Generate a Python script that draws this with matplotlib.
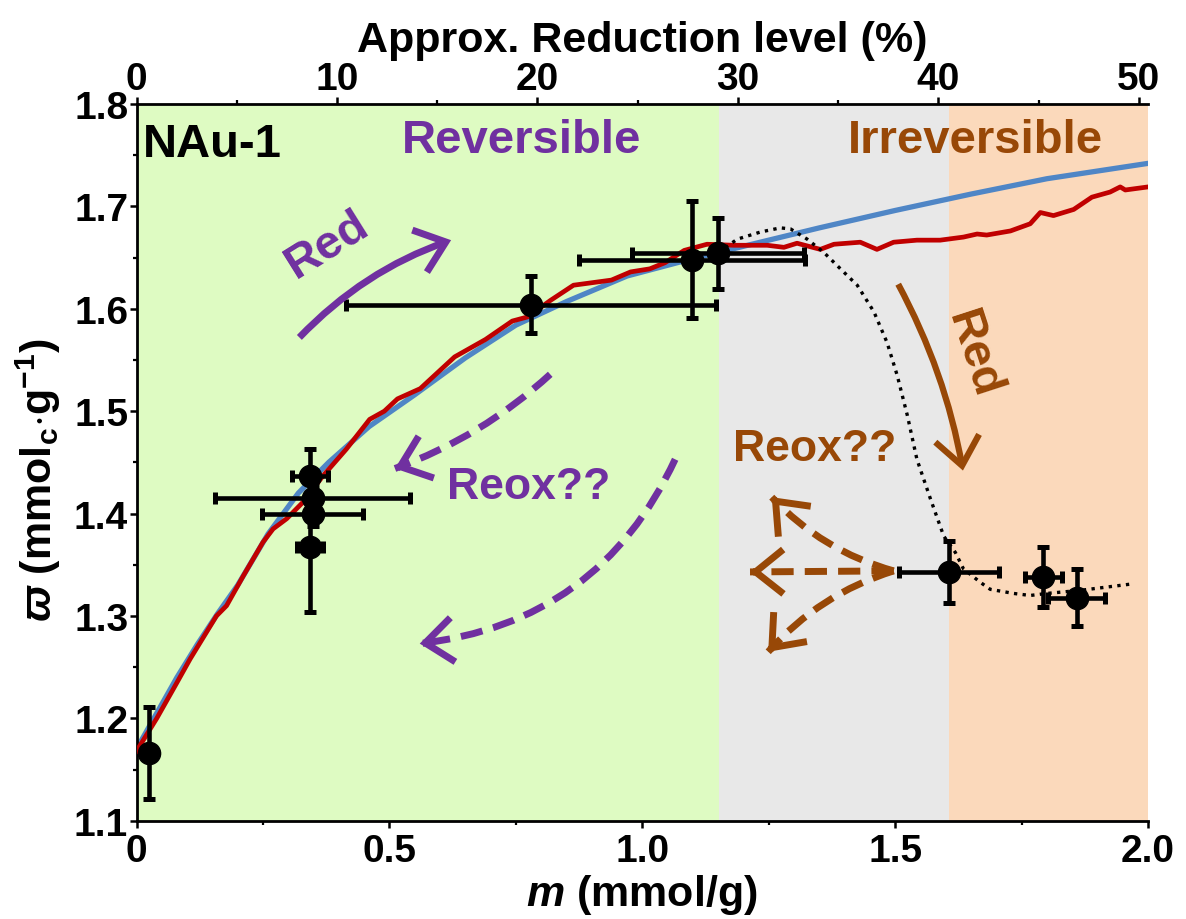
import numpy as np
import matplotlib
matplotlib.use("Agg")
import matplotlib.pyplot as plt
from matplotlib.ticker import MultipleLocator, FixedLocator, FixedFormatter

plt.rcParams['font.family'] = ['Liberation Sans', 'DejaVu Sans']
plt.rcParams['font.weight'] = 'bold'
plt.rcParams['mathtext.fontset'] = 'custom'
plt.rcParams['mathtext.rm'] = 'Liberation Sans:bold'
plt.rcParams['mathtext.it'] = 'Liberation Sans:italic:bold'
plt.rcParams['mathtext.bf'] = 'Liberation Sans:bold'

# ---------------- data ----------------
# measured points
pt_m = [0.024, 0.343, 0.348, 0.348, 0.343, 0.780, 1.098, 1.150, 1.607, 1.793, 1.859]
pt_w = [1.166, 1.437, 1.415, 1.400, 1.367, 1.604, 1.648, 1.654, 1.343, 1.338, 1.318]
pt_xerr = [0.0, 0.035, 0.193, 0.099, 0.026, 0.366, 0.224, 0.170, 0.099, 0.036, 0.056]
pt_yerr = [0.045, 0.026, 0.012, 0.012, 0.063, 0.028, 0.057, 0.035, 0.030, 0.029, 0.028]

# fitted model curve (blue)
fit_m = [0.00, 0.04, 0.08, 0.12, 0.16, 0.20, 0.26, 0.32, 0.38, 0.46, 0.55, 0.65,
         0.75, 0.85, 0.97, 1.10, 1.20, 1.35, 1.50, 1.65, 1.80, 2.00]
fit_w = [1.170, 1.205, 1.240, 1.272, 1.302, 1.330, 1.380, 1.420, 1.450, 1.485, 1.516, 1.552,
         1.584, 1.607, 1.632, 1.649, 1.661, 1.679, 1.696, 1.712, 1.727, 1.742]

# measured titration curve (red)
red_m = [0.000, 0.040, 0.080, 0.106, 0.158, 0.178, 0.211, 0.250, 0.270, 0.297, 0.329, 0.369,
         0.415, 0.461, 0.490, 0.516, 0.561, 0.629, 0.690, 0.743, 0.773, 0.818, 0.864, 0.909,
         0.939, 0.977, 1.015, 1.045, 1.083, 1.128, 1.181, 1.247, 1.280, 1.306, 1.352, 1.379,
         1.431, 1.464, 1.497, 1.543, 1.589, 1.635, 1.662, 1.681, 1.728, 1.767, 1.787, 1.813,
         1.853, 1.889, 1.925, 1.945, 1.955, 2.000]
red_w = [1.168, 1.200, 1.235, 1.258, 1.300, 1.310, 1.339, 1.372, 1.385, 1.395, 1.411, 1.437,
         1.463, 1.492, 1.500, 1.512, 1.522, 1.553, 1.570, 1.588, 1.592, 1.608, 1.623, 1.626,
         1.628, 1.636, 1.639, 1.645, 1.657, 1.663, 1.662, 1.662, 1.660, 1.664, 1.658, 1.663,
         1.665, 1.658, 1.665, 1.667, 1.667, 1.670, 1.673, 1.672, 1.676, 1.683, 1.694, 1.691,
         1.697, 1.709, 1.714, 1.719, 1.716, 1.719]

# dotted guide curve
dot_m = [1.150, 1.188, 1.234, 1.273, 1.293, 1.326, 1.359, 1.398, 1.425, 1.458, 1.484, 1.504,
         1.524, 1.543, 1.570, 1.596, 1.619, 1.635, 1.668, 1.688, 1.734, 1.767, 1.800, 1.866, 1.964]
dot_w = [1.655, 1.668, 1.675, 1.679, 1.678, 1.668, 1.655, 1.636, 1.623, 1.597, 1.567, 1.535,
         1.496, 1.453, 1.414, 1.378, 1.362, 1.346, 1.333, 1.326, 1.322, 1.320, 1.322, 1.325, 1.331]

# background regions
region_edges = [0.0, 1.152, 1.607, 2.0]
region_colors = ['#DEFBC2', '#E8E8E8', '#FBD9BB']

x_ticks = [0, 0.5, 1.0, 1.5, 2.0]
x_tick_labels = ['0', '0.5', '1.0', '1.5', '2.0']
y_ticks = [1.1, 1.2, 1.3, 1.4, 1.5, 1.6, 1.7, 1.8]
y_tick_labels = ['1.1', '1.2', '1.3', '1.4', '1.5', '1.6', '1.7', '1.8']
top_ticks = [0, 10, 20, 30, 40, 50]
top_tick_labels = ['0', '10', '20', '30', '40', '50']
pct_per_mmol = 25.23

PURPLE = '#7030A0'
BROWN = '#984807'
BLUE = '#4F86C6'
RED = '#C00000'

# ---------------- figure ----------------
fig = plt.figure(figsize=(11.86, 9.2), dpi=100)
ax = fig.add_axes([0.1151, 0.1068, 0.8529, 0.7791])

for i, c in enumerate(region_colors):
    ax.axvspan(region_edges[i], region_edges[i + 1], color=c, lw=0, zorder=0)

ax.plot(fit_m, fit_w, color=BLUE, lw=3.8, zorder=2, solid_capstyle='round')
ax.plot(red_m, red_w, color=RED, lw=3.4, zorder=3, solid_joinstyle='round')
ax.plot(dot_m, dot_w, color='black', lw=2.4, ls=(0, (1, 1.6)), zorder=5)

ax.errorbar(pt_m, pt_w, xerr=pt_xerr, yerr=pt_yerr, fmt='o', color='black',
            ms=16, elinewidth=3.3, capsize=4, capthick=3.6, zorder=4)

ax.set_xlim(0, 2.0)
ax.set_ylim(1.1, 1.8)

ax.xaxis.set_major_locator(FixedLocator(x_ticks))
ax.xaxis.set_major_formatter(FixedFormatter(x_tick_labels))
ax.xaxis.set_minor_locator(MultipleLocator(0.25))
ax.yaxis.set_major_locator(FixedLocator(y_ticks))
ax.yaxis.set_major_formatter(FixedFormatter(y_tick_labels))
ax.yaxis.set_minor_locator(MultipleLocator(0.05))

ax.spines['right'].set_visible(False)
ax.spines['top'].set_visible(False)
for s in ['left', 'bottom']:
    ax.spines[s].set_linewidth(2.0)

ax.tick_params(axis='both', which='major', direction='out', length=5, width=1.8,
               labelsize=28, top=False, right=False)
ax.tick_params(axis='both', which='minor', direction='out', length=3, width=1.6,
               top=False, right=False)
ax.tick_params(axis='x', which='major', pad=4)
ax.tick_params(axis='y', which='major', pad=1)

ax.set_xlabel('$\\mathit{m}$ (mmol/g)', fontsize=31, fontweight='bold')
ax.xaxis.label.set_va('center')
ax.xaxis.set_label_coords(0.5, -0.1023)
ax.set_ylabel('$\\varpi$ (mmol$_\\mathrm{c}$$\\cdot$g$^{\\mathrm{-1}}$)', fontsize=31, fontweight='bold')
ax.yaxis.label.set_va('center')
ax.yaxis.set_label_coords(-0.0974, 0.4767)

secax = ax.secondary_xaxis('top', functions=(lambda m: m * pct_per_mmol,
                                              lambda p: p / pct_per_mmol))
secax.xaxis.set_major_locator(FixedLocator(top_ticks))
secax.xaxis.set_major_formatter(FixedFormatter(top_tick_labels))
secax.xaxis.set_minor_locator(MultipleLocator(5))
secax.spines['top'].set_linewidth(2.0)
secax.tick_params(axis='x', which='major', direction='out', length=5, width=1.8,
                  labelsize=28, pad=0)
secax.tick_params(axis='x', which='minor', direction='out', length=3, width=1.6)
secax.set_xlabel('Approx. Reduction level (%)', fontsize=31, fontweight='bold', labelpad=7)

# ---------------- annotations ----------------
ax.text(0.013, 1.7495, 'NAu-1', fontsize=34, fontweight='bold', color='black',
        ha='left', va='baseline', zorder=6)
ax.text(0.761, 1.753, 'Reversible', fontsize=34, fontweight='bold', color=PURPLE,
        ha='center', va='baseline', zorder=6)
ax.text(1.659, 1.753, 'Irreversible', fontsize=34, fontweight='bold', color=BROWN,
        ha='center', va='baseline', zorder=6)
ax.text(0.377, 1.663, 'Red', fontsize=34, fontweight='bold', color=PURPLE,
        ha='center', va='center', rotation=32, rotation_mode='anchor', zorder=6)
ax.text(0.775, 1.426, 'Reox??', fontsize=32, fontweight='bold', color=PURPLE,
        ha='center', va='center', zorder=6)
ax.text(1.340, 1.464, 'Reox??', fontsize=32, fontweight='bold', color=BROWN,
        ha='center', va='center', zorder=6)
ax.text(1.655, 1.556, 'Red', fontsize=34, fontweight='bold', color=BROWN,
        ha='center', va='center', rotation=-72, rotation_mode='anchor', zorder=6)

HEAD = '->,head_length=1.0,head_width=0.8'


def arrow(start, end, color, rad, lw, dashed=False):
    if not dashed:
        ax.annotate('', xy=end, xytext=start, zorder=6,
                    arrowprops=dict(arrowstyle=HEAD, color=color, lw=lw, mutation_scale=20,
                                    shrinkA=0, shrinkB=0,
                                    connectionstyle=f'arc3,rad={rad}',
                                    capstyle='butt', joinstyle='miter'))
        return
    # dashed shaft
    ax.annotate('', xy=end, xytext=start, zorder=6,
                arrowprops=dict(arrowstyle='-', color=color, lw=lw,
                                linestyle=(0, (3.2, 1.6)), shrinkA=0, shrinkB=0,
                                connectionstyle=f'arc3,rad={rad}', capstyle='butt'))
    # solid open head aligned with the curve's end tangent
    S = ax.transData.transform(start)
    E = ax.transData.transform(end)
    d = E - S
    C = (S + E) / 2 + rad * np.array([d[1], -d[0]])
    t = (E - C) / np.linalg.norm(E - C)
    P = ax.transData.inverted().transform(E - 4 * t)
    ax.annotate('', xy=end, xytext=tuple(P), zorder=6,
                arrowprops=dict(arrowstyle=HEAD, color=color, lw=lw, mutation_scale=20,
                                shrinkA=0, shrinkB=0, capstyle='butt', joinstyle='miter'))


arrow((0.322, 1.572), (0.622, 1.667), PURPLE, -0.12, 5)
arrow((0.818, 1.536), (0.511, 1.444), PURPLE, -0.1, 5, dashed=True)
arrow((1.065, 1.453), (0.560, 1.273), PURPLE, -0.28, 5, dashed=True)
arrow((1.506, 1.624), (1.634, 1.442), BROWN, -0.08, 4.5)
arrow((1.497, 1.344), (1.256, 1.416), BROWN, -0.14, 5, dashed=True)
arrow((1.497, 1.344), (1.213, 1.343), BROWN, 0.0, 5, dashed=True)
arrow((1.497, 1.344), (1.249, 1.265), BROWN, 0.14, 5, dashed=True)

fig.savefig('out.png', dpi=100)
